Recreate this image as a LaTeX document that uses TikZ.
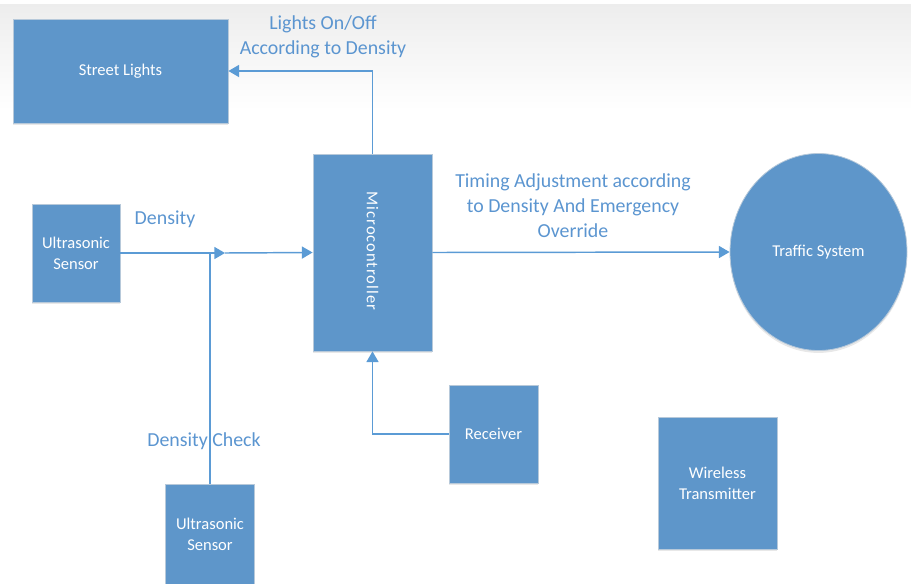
\documentclass[tikz,border=0pt]{standalone}
\usepackage{fontspec}
\setmainfont{Carlito}
\usetikzlibrary{arrows.meta,shadows,shapes.geometric}
\definecolor{boxblue}{HTML}{5E96CA}
\definecolor{boxedge}{HTML}{B7C9DA}
\definecolor{lineblue}{HTML}{5B9BD5}
\definecolor{txtblue}{HTML}{5B95D0}
\tikzset{
  blk/.style={draw=boxedge, line width=0.6pt, fill=boxblue, text=white, inner sep=0pt, align=center,
    font=\fontsize{12.4pt}{16pt}\selectfont,
    drop shadow={opacity=0.18, shadow xshift=0pt, shadow yshift=-1.8pt}},
  conn/.style={draw=lineblue, line width=1.1pt},
  arr/.style={conn, -{Triangle[length=8pt,width=9pt]}},
  lbl/.style={text=txtblue, align=center, inner sep=0pt, font=\fontsize{14.9pt}{18.7pt}\selectfont},
}
\begin{document}
\begin{tikzpicture}[x=0.75pt,y=-0.75pt]
\useasboundingbox (0,0) rectangle (911,583);
\shade[top color=black!7, bottom color=white] (0,4) rectangle (911,110);
% nodes
\node[blk, minimum width=215*0.75pt, minimum height=104*0.75pt] (street) at (120.5,71) {Street Lights};
\node[blk, minimum width=88*0.75pt, minimum height=98*0.75pt] (us1) at (76,253) {Ultrasonic\\Sensor};
\node[blk, minimum width=119*0.75pt, minimum height=197*0.75pt] (mc) at (372.5,252.5) {};
\node[text=white, rotate=-90, font=\fontsize{12.4pt}{16pt}\selectfont\addfontfeature{LetterSpace=6}] (mctext) at (372.5,251) {Microcontroller};
\node[blk, ellipse, minimum width=177*0.75pt, minimum height=197*0.75pt] (traffic) at (818.5,252) {Traffic System};
\node[blk, minimum width=89*0.75pt, minimum height=100*0.75pt] (us2) at (210,534) {Ultrasonic\\Sensor};
\node[blk, minimum width=89*0.75pt, minimum height=98*0.75pt] (recv) at (493.5,434) {Receiver};
\node[blk, minimum width=119*0.75pt, minimum height=132*0.75pt] (wt) at (717.5,483) {Wireless\\Transmitter};
% labels
\node[lbl] (lbllights) at (323,37) {Lights On/Off\\According to Density};
\node[lbl] (lbldens) at (165,219) {Density};
\node[lbl] (lbltiming) at (573,206) {Timing Adjustment according\\to Density And Emergency\\Override};
\node[lbl] (lblcheck) at (204,441) {Density Check};
% connectors
\coordinate (midtip) at (225,253);
\coordinate (junc) at (210,253);
\draw[arr] (mc.north) |- (street.east);
\draw[arr] (us1.east) -- (midtip);
\draw[arr] (midtip) -- (mc.west);
\draw[conn] (us2.north) -- (junc);
\draw[arr] (mc.east) -- (traffic.west);
\draw[arr] (recv.west) -| (mc.south);
\end{tikzpicture}
\end{document}
